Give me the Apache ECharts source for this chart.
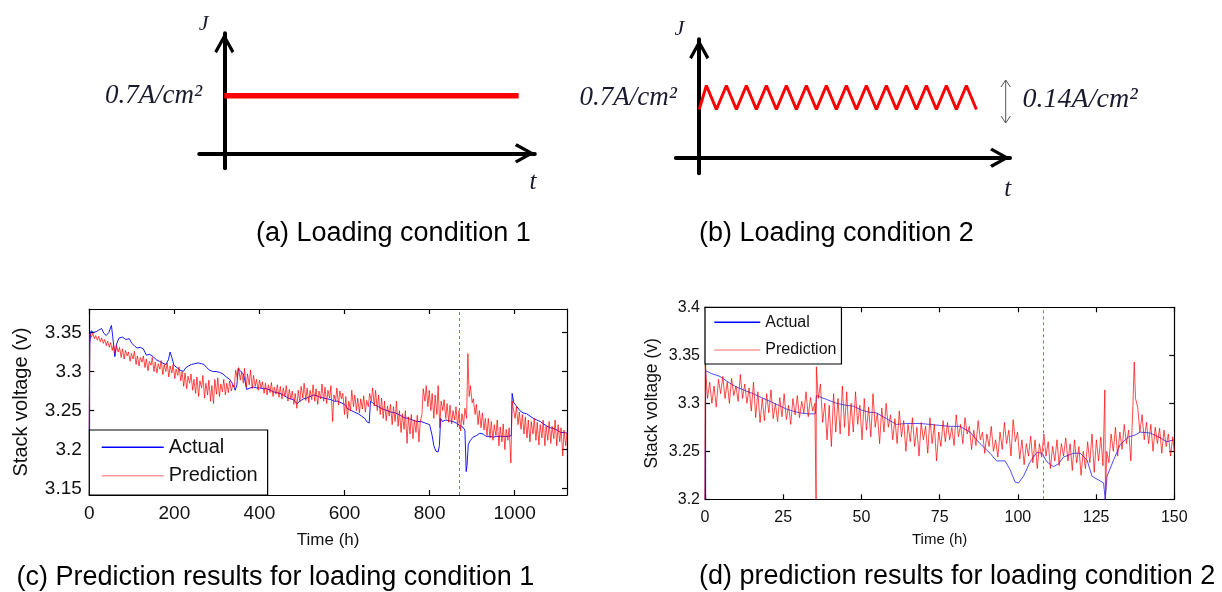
<!DOCTYPE html>
<html><head><meta charset="utf-8">
<script src="https://cdn.jsdelivr.net/npm/echarts@6/dist/echarts.min.js"></script>
<style>html,body{margin:0;padding:0;background:#fff}#c{width:1222px;height:592px}</style>
</head><body><div id="c"></div>
<script>
// ---------- data ----------
const captions = ['(a) Loading condition 1', '(b) Loading condition 2', '(c) Prediction results for loading condition 1', '(d) prediction results for loading condition 2'];
const loadA = [[0, 0.7], [1, 0.7]];
const loadB = [[0,0.56],[0.36,0.84],[0.86,0.56],[1.36,0.84],[1.86,0.56],[2.36,0.84],[2.86,0.56],[3.36,0.84],[3.86,0.56],[4.36,0.84],[4.86,0.56],[5.36,0.84],[5.86,0.56],[6.36,0.84],[6.86,0.56],[7.36,0.84],[7.86,0.56],[8.36,0.84],[8.86,0.56],[9.36,0.84],[9.86,0.56],[10.36,0.84],[10.86,0.56],[11.36,0.84],[11.86,0.56],[12.36,0.84],[12.86,0.56],[13.36,0.84],[13.86,0.56]];
const levelLabelA = [0.7];
const levelLabelB = [0.7];

const actualC = [[0,3.225],[1,3.335],[4,3.352],[10,3.350],[16,3.351],[22,3.353],[29,3.355],[34,3.349],[40,3.346],[46,3.350],[52,3.359],[55,3.345],[60,3.319],[64,3.335],[70,3.343],[78,3.344],[86,3.341],[94,3.342],[100,3.336],[106,3.333],[112,3.330],[120,3.331],[127,3.329],[134,3.321],[142,3.322],[150,3.319],[158,3.315],[165,3.313],[172,3.311],[180,3.309],[186,3.315],[190,3.325],[194,3.318],[199,3.308],[206,3.305],[213,3.302],[221,3.300],[227,3.305],[233,3.307],[240,3.309],[248,3.310],[256,3.311],[264,3.310],[270,3.309],[276,3.305],[282,3.302],[290,3.300],[298,3.300],[306,3.299],[314,3.297],[322,3.293],[330,3.290],[336,3.285],[343,3.276],[347,3.283],[350,3.304],[356,3.300],[362,3.297],[366,3.288],[370,3.277],[378,3.279],[386,3.280],[394,3.279],[401,3.279],[410,3.278],[417,3.278],[425,3.276],[433,3.274],[441,3.273],[448,3.272],[456,3.270],[464,3.267],[472,3.265],[480,3.264],[488,3.259],[495,3.262],[503,3.265],[511,3.266],[519,3.268],[527,3.270],[535,3.269],[543,3.267],[551,3.266],[560,3.265],[568,3.264],[576,3.262],[584,3.262],[592,3.260],[600,3.258],[608,3.252],[616,3.250],[624,3.248],[632,3.246],[640,3.243],[648,3.240],[652,3.236],[658,3.234],[661,3.262],[666,3.260],[672,3.257],[680,3.255],[690,3.252],[700,3.250],[710,3.248],[720,3.247],[731,3.244],[740,3.241],[750,3.240],[760,3.238],[770,3.236],[780,3.236],[790,3.234],[800,3.232],[806,3.218],[810,3.205],[815,3.198],[820,3.197],[823,3.205],[826,3.240],[830,3.236],[838,3.238],[846,3.237],[855,3.236],[863,3.234],[871,3.231],[878,3.229],[883,3.225],[886,3.172],[888,3.180],[891,3.207],[896,3.212],[902,3.216],[910,3.218],[918,3.221],[926,3.220],[933,3.217],[942,3.217],[950,3.216],[958,3.217],[966,3.217],[975,3.217],[985,3.217],[992,3.218],[994,3.272],[998,3.260],[1004,3.256],[1012,3.250],[1020,3.247],[1028,3.246],[1036,3.243],[1044,3.240],[1052,3.238],[1060,3.236],[1068,3.233],[1076,3.230],[1084,3.228],[1092,3.227],[1100,3.225],[1108,3.222],[1116,3.222],[1123,3.221]];

const predC = [[0,3.226],[1,3.348],[5,3.344],[8,3.349],[12,3.342],[15,3.346],[19,3.340],[22,3.345],[26,3.338],[29,3.343],[33,3.336],[36,3.341],[40,3.333],[43,3.339],[47,3.331],[50,3.337],[54,3.327],[57,3.335],[61,3.322],[64,3.333],[68,3.325],[71,3.331],[75,3.318],[78,3.329],[82,3.316],[85,3.327],[89,3.320],[92,3.325],[96,3.313],[99,3.323],[103,3.316],[106,3.326],[110,3.309],[113,3.320],[117,3.307],[120,3.318],[124,3.312],[127,3.320],[131,3.305],[134,3.316],[138,3.301],[141,3.313],[145,3.308],[148,3.318],[152,3.300],[155,3.312],[159,3.298],[162,3.310],[166,3.303],[169,3.314],[173,3.296],[176,3.309],[180,3.300],[183,3.311],[187,3.293],[190,3.307],[194,3.298],[197,3.309],[201,3.291],[204,3.303],[208,3.295],[211,3.306],[215,3.288],[218,3.300],[222,3.281],[225,3.298],[229,3.278],[232,3.294],[236,3.285],[239,3.297],[243,3.276],[246,3.290],[250,3.272],[253,3.293],[257,3.268],[260,3.288],[264,3.279],[267,3.295],[271,3.266],[274,3.285],[278,3.270],[281,3.289],[285,3.262],[288,3.282],[292,3.259],[295,3.290],[299,3.271],[302,3.292],[306,3.268],[309,3.284],[313,3.274],[316,3.290],[320,3.270],[323,3.285],[327,3.273],[330,3.288],[334,3.275],[337,3.283],[341,3.280],[344,3.302],[348,3.291],[351,3.305],[355,3.289],[358,3.300],[362,3.285],[365,3.304],[369,3.280],[372,3.297],[376,3.283],[379,3.302],[383,3.278],[386,3.295],[390,3.281],[393,3.290],[397,3.276],[400,3.289],[404,3.279],[407,3.287],[411,3.272],[414,3.285],[418,3.270],[421,3.283],[425,3.273],[428,3.286],[432,3.268],[435,3.280],[439,3.271],[442,3.283],[446,3.267],[449,3.281],[453,3.265],[456,3.279],[460,3.268],[463,3.282],[467,3.262],[470,3.277],[474,3.265],[477,3.275],[481,3.258],[484,3.272],[488,3.253],[491,3.276],[495,3.262],[498,3.281],[502,3.266],[505,3.285],[509,3.263],[512,3.279],[516,3.260],[519,3.276],[523,3.264],[526,3.283],[530,3.262],[533,3.278],[537,3.258],[540,3.275],[544,3.265],[547,3.284],[551,3.262],[554,3.280],[558,3.259],[561,3.276],[565,3.266],[568,3.282],[572,3.236],[575,3.270],[579,3.262],[582,3.279],[586,3.257],[589,3.275],[593,3.265],[596,3.272],[600,3.245],[603,3.268],[607,3.240],[610,3.262],[614,3.250],[617,3.276],[621,3.255],[624,3.270],[628,3.250],[631,3.266],[635,3.247],[638,3.265],[642,3.252],[645,3.269],[649,3.248],[652,3.263],[656,3.255],[659,3.272],[663,3.262],[666,3.279],[670,3.256],[673,3.276],[677,3.250],[680,3.270],[684,3.245],[687,3.266],[691,3.240],[694,3.262],[698,3.237],[701,3.256],[705,3.243],[708,3.258],[712,3.232],[715,3.255],[719,3.236],[722,3.262],[726,3.230],[729,3.250],[733,3.222],[736,3.246],[740,3.226],[743,3.250],[747,3.208],[750,3.242],[754,3.220],[757,3.245],[761,3.214],[764,3.238],[768,3.222],[771,3.244],[775,3.210],[778,3.236],[782,3.245],[785,3.278],[789,3.262],[792,3.282],[796,3.255],[799,3.276],[803,3.250],[806,3.272],[810,3.240],[813,3.270],[817,3.245],[820,3.282],[824,3.228],[827,3.262],[831,3.250],[834,3.264],[838,3.240],[841,3.259],[845,3.235],[848,3.257],[852,3.233],[855,3.250],[859,3.238],[862,3.255],[866,3.229],[869,3.250],[873,3.224],[876,3.246],[880,3.232],[883,3.253],[887,3.240],[890,3.323],[893,3.268],[896,3.282],[900,3.260],[903,3.265],[907,3.245],[910,3.258],[914,3.232],[917,3.250],[921,3.228],[924,3.247],[928,3.225],[931,3.240],[935,3.218],[938,3.240],[942,3.215],[945,3.236],[949,3.212],[952,3.232],[956,3.218],[959,3.238],[963,3.205],[966,3.229],[970,3.210],[973,3.233],[977,3.200],[980,3.226],[984,3.212],[987,3.228],[991,3.183],[994,3.262],[997,3.252],[1001,3.240],[1004,3.255],[1008,3.232],[1011,3.248],[1015,3.226],[1018,3.245],[1022,3.220],[1025,3.242],[1029,3.215],[1032,3.238],[1036,3.210],[1039,3.236],[1043,3.220],[1046,3.240],[1050,3.212],[1053,3.235],[1057,3.206],[1060,3.232],[1064,3.215],[1067,3.238],[1071,3.205],[1074,3.230],[1078,3.212],[1081,3.236],[1085,3.208],[1088,3.230],[1092,3.214],[1095,3.238],[1099,3.205],[1102,3.232],[1106,3.210],[1109,3.228],[1113,3.192],[1116,3.225],[1120,3.205],[1123,3.222]];

const actualD = [[0,3.200],[0.2,3.334],[2,3.331],[4.8,3.328],[7,3.323],[10,3.317],[13,3.313],[15.4,3.310],[18,3.306],[20.8,3.302],[23.5,3.298],[26,3.294],[28,3.292],[30.4,3.290],[33,3.289],[35.3,3.289],[35.6,3.308],[38.9,3.304],[42,3.300],[45,3.298],[47.4,3.297],[50,3.293],[52,3.291],[54.8,3.290],[58,3.284],[61.2,3.278],[64.4,3.279],[68.7,3.279],[72,3.278],[75,3.277],[78,3.276],[81.5,3.276],[84.7,3.270],[87.9,3.258],[91.1,3.248],[93.2,3.240],[95.9,3.240],[97.5,3.231],[99.1,3.218],[100.2,3.217],[101.8,3.224],[103.9,3.239],[106.1,3.249],[107.7,3.248],[109.3,3.239],[111.4,3.234],[113,3.237],[114.6,3.244],[117.8,3.248],[119.9,3.248],[122.1,3.241],[123.7,3.224],[125.3,3.221],[127.4,3.217],[127.9,3.200],[128.5,3.224],[130.6,3.241],[132.7,3.257],[135.4,3.265],[137.5,3.267],[139.1,3.270],[142.3,3.269],[145.5,3.264],[147.6,3.260],[150,3.262]];

const predD = [[0,3.200],[0.1,3.340],[0.8,3.305],[1.5,3.322],[2.2,3.300],[2.9,3.318],[3.6,3.296],[4.3,3.325],[5.0,3.310],[5.7,3.328],[6.4,3.305],[7.1,3.322],[7.8,3.300],[8.5,3.326],[9.2,3.308],[9.9,3.318],[10.6,3.302],[11.3,3.330],[12.0,3.305],[12.7,3.320],[13.4,3.300],[14.1,3.316],[14.8,3.292],[15.5,3.322],[16.2,3.285],[16.9,3.312],[17.6,3.280],[18.3,3.305],[19.0,3.282],[19.7,3.310],[20.4,3.290],[21.1,3.314],[21.8,3.284],[22.5,3.300],[23.2,3.281],[23.9,3.306],[24.6,3.286],[25.3,3.310],[26.0,3.283],[26.7,3.298],[27.4,3.278],[28.1,3.305],[28.8,3.288],[29.5,3.308],[30.2,3.285],[30.9,3.302],[31.6,3.290],[32.3,3.312],[33.0,3.286],[33.7,3.306],[34.4,3.292],[35.1,3.300],[35.5,3.200],[35.6,3.338],[36.2,3.305],[36.9,3.320],[37.6,3.280],[38.3,3.300],[39.0,3.262],[39.7,3.298],[40.4,3.255],[41.1,3.310],[41.8,3.270],[42.5,3.305],[43.2,3.268],[43.9,3.318],[44.6,3.275],[45.3,3.312],[46.0,3.266],[46.7,3.300],[47.4,3.270],[48.1,3.312],[48.8,3.278],[49.5,3.298],[50.2,3.262],[50.9,3.305],[51.6,3.272],[52.3,3.296],[53.0,3.265],[53.7,3.310],[54.4,3.275],[55.1,3.290],[55.8,3.258],[56.5,3.295],[57.2,3.270],[57.9,3.300],[58.6,3.275],[59.3,3.288],[60.0,3.262],[60.7,3.284],[61.4,3.258],[62.1,3.292],[62.8,3.265],[63.5,3.282],[64.2,3.250],[64.9,3.278],[65.6,3.260],[66.3,3.285],[67.0,3.255],[67.7,3.275],[68.4,3.245],[69.1,3.280],[69.8,3.262],[70.5,3.276],[71.2,3.248],[71.9,3.285],[72.6,3.258],[73.3,3.278],[74.0,3.240],[74.7,3.270],[75.4,3.255],[76.1,3.282],[76.8,3.260],[77.5,3.280],[78.2,3.262],[78.9,3.275],[79.6,3.256],[80.3,3.288],[81.0,3.265],[81.7,3.278],[82.4,3.258],[83.1,3.285],[83.8,3.268],[84.5,3.276],[85.2,3.252],[85.9,3.272],[86.6,3.256],[87.3,3.282],[88.0,3.262],[88.7,3.270],[89.4,3.248],[90.1,3.268],[90.8,3.255],[91.5,3.276],[92.2,3.250],[92.9,3.262],[93.6,3.244],[94.3,3.270],[95.0,3.252],[95.7,3.280],[96.4,3.258],[97.1,3.272],[97.8,3.245],[98.5,3.283],[99.2,3.260],[99.9,3.270],[100.6,3.242],[101.3,3.262],[102.0,3.236],[102.7,3.258],[103.4,3.245],[104.1,3.266],[104.8,3.238],[105.5,3.262],[106.2,3.232],[106.9,3.258],[107.6,3.244],[108.3,3.268],[109.0,3.245],[109.7,3.260],[110.4,3.232],[111.1,3.255],[111.8,3.240],[112.5,3.262],[113.2,3.235],[113.9,3.258],[114.6,3.245],[115.3,3.264],[116.0,3.240],[116.7,3.258],[117.4,3.230],[118.1,3.262],[118.8,3.238],[119.5,3.255],[120.2,3.225],[120.9,3.250],[121.6,3.232],[122.3,3.260],[123.0,3.238],[123.7,3.268],[124.4,3.228],[125.1,3.262],[125.8,3.240],[126.5,3.265],[127.2,3.235],[127.8,3.314],[128.0,3.200],[128.4,3.250],[129.1,3.238],[129.8,3.268],[130.5,3.250],[131.2,3.275],[131.9,3.245],[132.6,3.270],[133.3,3.252],[134.0,3.278],[134.7,3.258],[135.4,3.272],[136.1,3.240],[136.8,3.300],[137.2,3.343],[137.6,3.305],[138.3,3.296],[139.0,3.270],[139.7,3.288],[140.4,3.262],[141.1,3.280],[141.8,3.258],[142.5,3.278],[143.2,3.250],[143.9,3.275],[144.6,3.258],[145.3,3.274],[146.0,3.248],[146.7,3.272],[147.4,3.255],[148.1,3.268],[148.8,3.245],[149.5,3.265],[150.0,3.250]];

const ticksCX = [0, 200, 400, 600, 800, 1000];
const ticksCY = [3.15, 3.2, 3.25, 3.3, 3.35];
const ticksDX = [0, 25, 50, 75, 100, 125, 150];
const ticksDY = [3.2, 3.25, 3.3, 3.35, 3.4];
const splitC = 870;
const splitD = 108;

// ---------- styles ----------
const SANS = "'Liberation Sans', Arial, sans-serif";
const SERIF = "'Liberation Serif', 'Times New Roman', serif";
const chevron = 'path://M10,0 L20,18 L17.4,20 L10,6.5 L2.6,20 L0,18 Z';
const txt = '#111';

function schemX(grid, min, max) {
  return { type: 'value', gridIndex: grid, min, max,
    axisLine: { show: true, onZero: true, lineStyle: { color: '#000', width: 4 }, symbol: ['none', chevron], symbolSize: [20, 20], symbolOffset: [0, -10] },
    axisTick: { show: false }, axisLabel: { show: false }, splitLine: { show: false } };
}
function schemY(grid, min, max, lab, margin) {
  return { type: 'value', gridIndex: grid, min, max,
    axisLine: { show: true, onZero: true, lineStyle: { color: '#000', width: 4 }, symbol: ['none', chevron], symbolSize: [20, 20], symbolOffset: [0, -10] },
    axisTick: { show: false }, splitLine: { show: false },
    axisLabel: { show: true, customValues: lab, margin, formatter: v => v + 'A/cm²',
      fontFamily: SERIF, fontStyle: 'italic', fontSize: 27, color: '#1a1a2e' } };
}
function dataX(grid, min, max, ticks, pos, fs, margin, name, nameGap, nameFs) {
  const main = pos === 'bottom';
  return { type: 'value', gridIndex: grid, min, max, position: pos,
    name: main ? name : '', nameLocation: 'middle', nameGap,
    nameTextStyle: { fontFamily: SANS, fontSize: nameFs, color: txt },
    axisLine: { show: true, onZero: false, lineStyle: { color: '#000', width: 1.2 } },
    axisTick: { show: true, inside: true, length: 5, customValues: ticks, lineStyle: { color: '#000', width: 1.2 } },
    axisLabel: { show: main, customValues: ticks, margin, formatter: v => String(v), fontFamily: SANS, fontSize: fs, color: txt },
    splitLine: { show: false } };
}
function dataY(grid, min, max, ticks, pos, fs, margin, name, nameGap, nameFs) {
  const main = pos === 'left';
  return { type: 'value', gridIndex: grid, min, max, position: pos,
    name: main ? name : '', nameLocation: 'middle', nameGap,
    nameTextStyle: { fontFamily: SANS, fontSize: nameFs, color: txt },
    axisLine: { show: true, onZero: false, lineStyle: { color: '#000', width: 1.2 } },
    axisTick: { show: true, inside: true, length: 5, customValues: ticks, lineStyle: { color: '#000', width: 1.2 } },
    axisLabel: { show: main, customValues: ticks, margin, formatter: v => String(v), fontFamily: SANS, fontSize: fs, color: txt },
    splitLine: { show: false } };
}
function lineSeries(name, xi, yi, data, color, width, opacity, z) {
  return { name, type: 'line', xAxisIndex: xi, yAxisIndex: yi, data, symbol: 'none', showSymbol: false,
    silent: true, z, lineStyle: { color, width, opacity }, itemStyle: { color } };
}
function legendBox(left, top, itemWidth, fs, gap, padding) {
  return { left, top, orient: 'vertical', itemWidth, itemHeight: 1.5, itemGap: gap, padding, icon: 'rect',
    backgroundColor: '#fff', borderColor: '#000', borderWidth: 1.2, borderRadius: 0, selectedMode: false,
    textStyle: { fontFamily: SANS, fontSize: fs, color: txt },
    data: [{ name: 'Actual', itemStyle: { color: '#0000ff' } },
           { name: 'Prediction', itemStyle: { color: '#ff9a9a' } }] };
}
function caption(text, left, top) {
  return { text, left, top, padding: 0,
    textStyle: { fontFamily: SANS, fontSize: 27, fontWeight: 'normal', color: '#000' } };
}
function schemText(text, x, y, size) {
  return { type: 'text', x, y, silent: true,
    style: { text, align: 'center', verticalAlign: 'middle', fill: '#1a1a2e',
      font: 'italic ' + size + 'px ' + SERIF } };
}

const chart = echarts.init(document.getElementById('c'), null, { renderer: 'canvas' });
chart.setOption({
  animation: false,
  backgroundColor: '#fff',
  title: [caption(captions[0], 256, 220), caption(captions[1], 699, 220), caption(captions[2], 16.5, 564.5), caption(captions[3], 699, 563)],
  grid: [
    { left: 199.2, top: 33.3, width: 335.6, height: 135, outerBoundsMode: 'none' },
    { left: 675.9, top: 39.3, width: 334.1, height: 134, outerBoundsMode: 'none' },
    { left: 89.3, top: 309, width: 477.7, height: 186, outerBoundsMode: 'none' },
    { left: 705, top: 307.3, width: 469.3, height: 192, outerBoundsMode: 'none' }
  ],
  xAxis: [
    schemX(0, -0.0853, 1.0547),
    schemX(1, -1.165, 15.54),
    dataX(2, 0, 1123, ticksCX, 'bottom', 19, 9, 'Time (h)', 37, 17),
    dataX(2, 0, 1123, ticksCX, 'top', 19, 9, '', 0, 17),
    dataX(3, 0, 150, ticksDX, 'bottom', 16, 10, 'Time (h)', 33, 15),
    dataX(3, 0, 150, ticksDX, 'top', 16, 10, '', 0, 15)
  ],
  yAxis: [
    schemY(0, -0.1823, 1.4583, levelLabelA, -3),
    schemY(1, -0.1814, 1.3767, levelLabelB, -1),
    dataY(2, 3.142, 3.38, ticksCY, 'left', 19, 7.5, 'Stack voltage (v)', 58, 20),
    dataY(2, 3.142, 3.38, ticksCY, 'right', 19, 7.5, '', 0, 20),
    dataY(3, 3.2, 3.4, ticksDY, 'left', 16, 5, 'Stack voltage (v)', 44, 17.5),
    dataY(3, 3.2, 3.4, ticksDY, 'right', 16, 5, '', 0, 17.5)
  ],
  legend: [
    legendBox(89.3, 430, 62, 20, 8.4, [7.3, 10, 9.3, 12.4]),
    legendBox(705, 307.3, 46, 16, 11.7, [7, 5, 6, 9.3])
  ],
  series: [
    lineSeries('loadA', 0, 0, loadA, '#ff0000', 5.5, 1, 5),
    lineSeries('loadB', 1, 1, loadB, '#ff0000', 3, 1, 5),
    Object.assign(lineSeries('Actual', 2, 2, actualC, '#0000ff', 1, 0.9, 2), {
      markLine: { silent: true, symbol: ['none', 'none'], label: { show: false },
        lineStyle: { type: [3, 3], color: '#6f6fff', width: 1 }, data: [{ xAxis: splitC }] } }),
    lineSeries('Prediction', 2, 2, predC, '#ff0000', 1, 0.7, 3),
    Object.assign(lineSeries('Actual', 4, 4, actualD, '#2020ff', 1, 0.8, 2), {
      markLine: { silent: true, symbol: ['none', 'none'], label: { show: false },
        lineStyle: { type: [3, 3], color: '#6f6fff', width: 1 }, data: [{ xAxis: splitD }] } }),
    lineSeries('Prediction', 4, 4, predD, '#ff0000', 1, 0.7, 3)
  ],
  graphic: [
    schemText('J', 203.7, 24.5, 22),
    schemText('t', 533, 182, 25),
    schemText('J', 679.5, 29.2, 22),
    schemText('t', 1007.8, 189.5, 25),
    { type: 'text', x: 1022.6, y: 100, silent: true,
      style: { text: '0.14A/cm²', align: 'left', verticalAlign: 'middle', fill: '#1a1a2e', font: 'italic 28px ' + SERIF } },
    { type: 'line', silent: true, shape: { x1: 1005.7, y1: 80, x2: 1005.7, y2: 123 }, style: { stroke: '#555', lineWidth: 1 } },
    { type: 'polyline', silent: true, shape: { points: [[1001, 87], [1005.7, 80], [1010.4, 87]] }, style: { stroke: '#555', fill: null, lineWidth: 1 } },
    { type: 'polyline', silent: true, shape: { points: [[1001, 116], [1005.7, 123], [1010.4, 116]] }, style: { stroke: '#555', fill: null, lineWidth: 1 } }
  ]
});
</script>
</body></html>
